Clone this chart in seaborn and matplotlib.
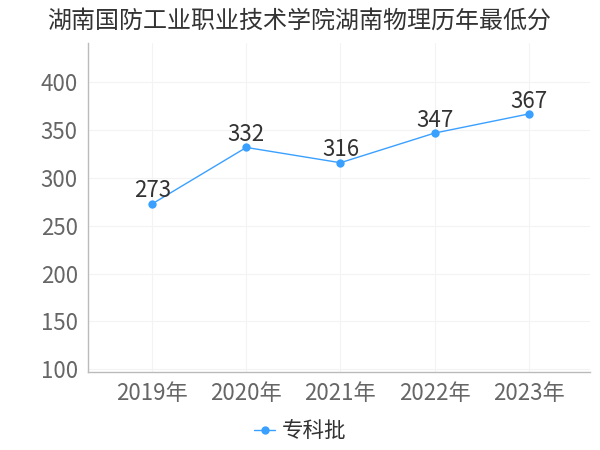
import matplotlib
matplotlib.use("Agg")
import matplotlib.pyplot as plt
import seaborn as sns
import pandas as pd

years = ["2019年", "2020年", "2021年", "2022年", "2023年"]
scores = [273, 332, 316, 347, 367]
series_name = "专科批"
title = "湖南国防工业职业技术学院湖南物理历年最低分"

sns.set_theme(style="white")
plt.rcParams['font.family'] = ['Noto Sans CJK SC', 'DejaVu Sans']

df = pd.DataFrame({"year": years, "score": scores, "batch": series_name})

fig = plt.figure(figsize=(6, 4.5), dpi=100)
ax = fig.add_axes([0.147, 0.173, 0.836, 0.731])

color = "#3aa0ff"
sns.lineplot(data=df, x="year", y="score", hue="batch", palette=[color],
             marker="o", markersize=6, markeredgewidth=0, linewidth=1,
             ax=ax, sort=False)

for i, v in enumerate(scores):
    ax.annotate(str(v), (i, v), xytext=(0, 1), textcoords="offset points",
                ha="center", va="bottom", fontsize=16, color="#333333")

ax.set_ylim(97, 441)
ax.set_xlim(-0.68, 4.65)
ax.set_yticks([100, 150, 200, 250, 300, 350, 400])
ax.set_xlabel("")
ax.set_ylabel("")
ax.grid(True, color="#f3f3f3", linewidth=0.8)
ax.tick_params(axis="both", labelsize=16, colors="#666666", length=4, color="#bbbbbb")
ax.tick_params(axis="x", pad=3)
for lbl in ax.get_xticklabels() + ax.get_yticklabels():
    lbl.set_color("#666666")
for s in ["top", "right"]:
    ax.spines[s].set_visible(False)
for s in ["left", "bottom"]:
    ax.spines[s].set_color("#bbbbbb")
    ax.spines[s].set_linewidth(1)

handles, labels = ax.get_legend_handles_labels()
ax.get_legend().remove()
leg = fig.legend(handles, labels, loc="center", bbox_to_anchor=(0.5, 0.042), frameon=False,
                 fontsize=15.5, handlelength=1.0, handletextpad=0.3)
for t in leg.get_texts():
    t.set_color("#333333")

fig.text(0.078, 0.955, title, fontsize=17.3, color="#333333", ha="left", va="center")

fig.savefig("out.png", dpi=100)
